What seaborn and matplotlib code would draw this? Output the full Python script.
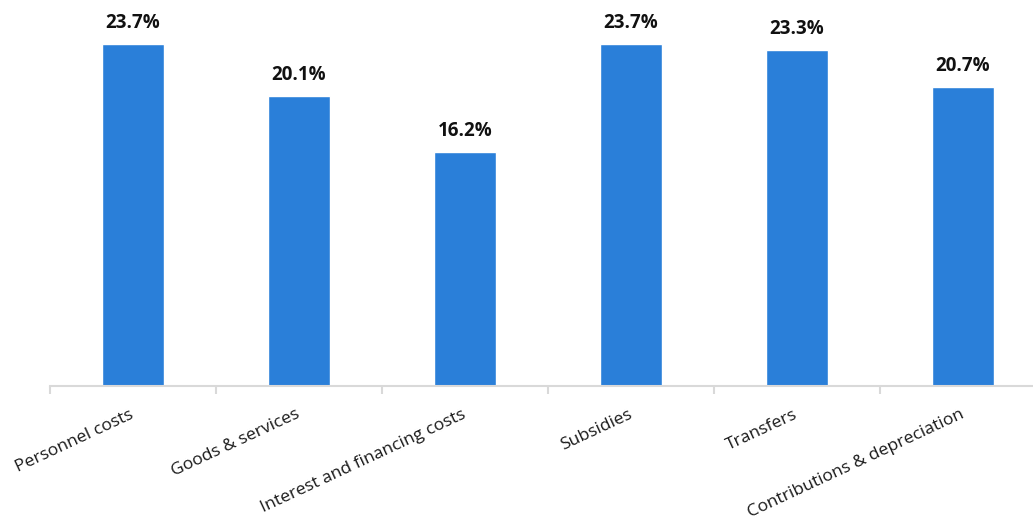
import matplotlib
matplotlib.use("Agg")
import matplotlib.pyplot as plt
import seaborn as sns
import numpy as np
import pandas as pd

categories = ["Personnel costs", "Goods & services", "Interest and financing costs",
              "Subsidies", "Transfers", "Contributions & depreciation"]
values = [23.7, 20.1, 16.2, 23.7, 23.3, 20.7]
labels = ["23.7%", "20.1%", "16.2%", "23.7%", "23.3%", "20.7%"]

sns.set_style("white")
plt.rcParams['font.family'] = ['Open Sans', 'DejaVu Sans']

fig = plt.figure(figsize=(10.33, 5.26), dpi=100)
ax = fig.add_axes([50/1033, 140/526, 983/1033, 386/526])

df = pd.DataFrame({"cat": categories, "val": values})
sns.barplot(data=df, x="cat", y="val", color="#2A7FD9", saturation=1, width=0.375, ax=ax)

ax.set_xlabel("")
ax.set_ylabel("")
ax.set_yticks([])
for s in ["top", "right", "left"]:
    ax.spines[s].set_visible(False)
ax.spines["bottom"].set_color("#d9d9d9")
ax.spines["bottom"].set_linewidth(1.5)

ax.set_xticks(range(len(categories)))
ax.set_xticklabels(categories, rotation=25, ha="right", va="center", rotation_mode="anchor",
                   fontsize=12.6, color="#1a1a1a")
ax.tick_params(axis="x", which="major", bottom=True, length=0, pad=20)
ax.set_xticks(np.arange(-0.5, len(categories), 1.0), minor=True)
ax.tick_params(axis="x", which="minor", bottom=True, length=6, width=1.5,
               color="#d9d9d9", direction="out")

ax.set_xlim(-0.5, -0.5 + 983/166)
ax.set_ylim(0, 386/14.43)

for i, (v, t) in enumerate(zip(values, labels)):
    ax.text(i, v + 0.75, t, ha="center", va="bottom", fontsize=13.5, fontweight="bold", color="#111111")

fig.savefig("out.png", dpi=100)
